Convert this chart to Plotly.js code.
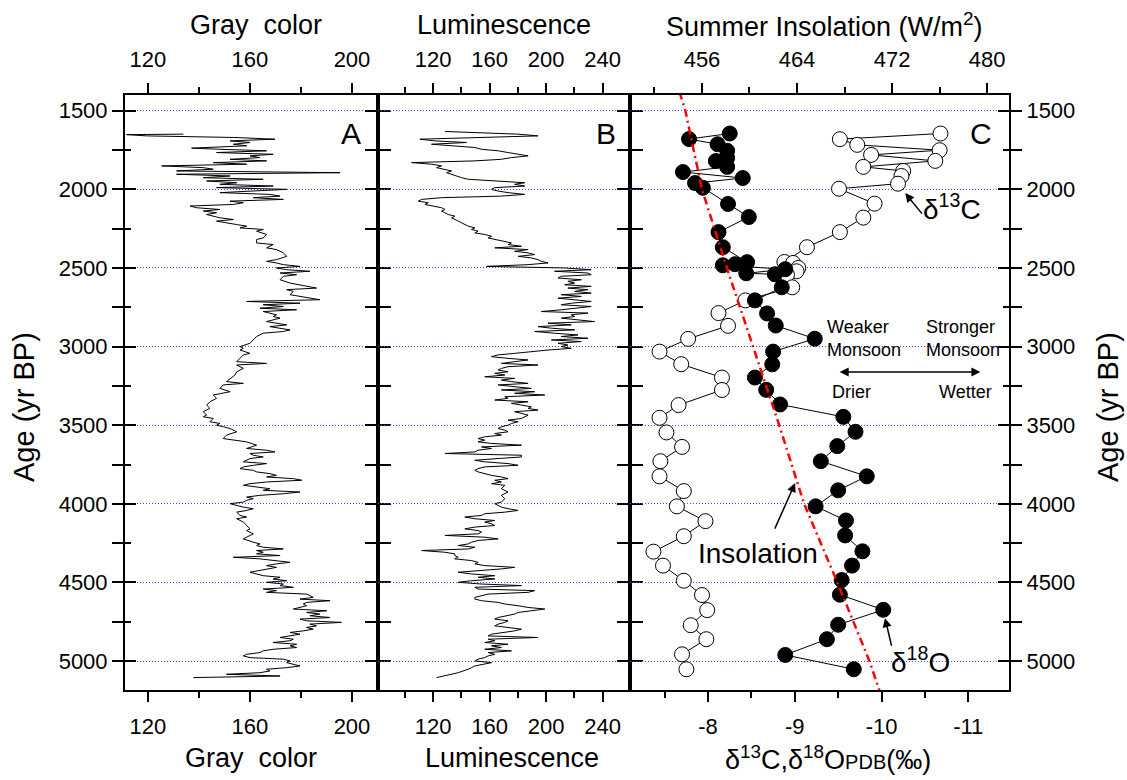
<!DOCTYPE html>
<html>
<head>
<meta charset="utf-8">
<script src="https://cdn.plot.ly/plotly-3.0.1.min.js"></script>
<style>html,body{margin:0;padding:0;background:#fff;}#chart{width:1127px;height:780px;}</style>
</head>
<body>
<div id="chart"></div>
<script>
// ---- Panel A: Gray color ----
const grayAge = [1649,1652,1660,1670,1681,1692,1702,1713,1723,1738,1745,1755,1766,1777,1787,1798,1809,1819,1830,1840,
1851,1862,1872,1883,1894,1904,1915,1926,1936,1947,1958,1968,1979,1989,2000,2011,2021,2032,2043,2053,
2064,2075,2085,2096,2106,2117,2128,2138,2149,2160,2181,2192,2202,2224,2234,2245,2255,2266,2287,2309,
2319,2341,2351,2372,2383,2404,2426,2447,2458,2468,2479,2490,2500,2511,2521,2532,2543,2553,2575,2596,
2607,2628,2638,2649,2670,2692,2702,2713,2724,2734,2745,2756,2766,2777,2798,2809,2819,2841,2862,2873,
2883,2894,2904,2915,2936,2958,2979,3000,3011,3022,3043,3053,3075,3096,3107,3117,3139,3160,3181,3202,
3223,3234,3244,3266,3287,3308,3329,3351,3372,3393,3414,3436,3446,3457,3478,3489,3500,3510,3521,3542,
3563,3585,3595,3606,3627,3648,3659,3670,3680,3691,3702,3712,3733,3744,3755,3765,3776,3787,3797,3808,
3819,3829,3840,3850,3861,3872,3882,3893,3904,3914,3925,3936,3946,3957,3967,3978,3989,3999,4010,4021,
4031,4042,4053,4074,4084,4095,4116,4138,4159,4170,4191,4212,4223,4244,4255,4265,4276,4287,4297,4308,
4318,4329,4340,4350,4372,4382,4393,4404,4425,4435,4457,4467,4478,4489,4499,4510,4520,4531,4542,4552,
4563,4574,4584,4595,4606,4616,4627,4637,4648,4669,4680,4691,4701,4712,4723,4733,4744,4754,4765,4776,
4786,4797,4808,4818,4829,4840,4850,4861,4871,4882,4893,4903,4914,4925,4935,4946,4957,4967,4978,4988,
4999,5010,5020,5031,5042,5052,5063,5074,5084,5095,5105];
const grayVal = [133.9,111.6,119.5,153.5,169.8,152.2,160.0,153.5,158.7,137.1,148.2,166.5,146.9,169.1,160.0,163.9,152.2,166.5,145.6,158.7,
125.4,141.7,145.6,131.2,195.3,131.2,152.2,141.7,165.2,143.0,154.8,148.2,169.1,146.9,174.4,158.7,148.2,167.8,171.8,161.3,
173.1,152.2,157.4,153.5,136.5,139.1,148.2,141.7,146.9,143.0,148.2,153.5,146.9,154.8,158.7,156.1,165.2,162.6,166.5,165.2,
162.6,162.6,169.1,166.5,170.4,173.1,174.4,170.4,166.5,170.4,173.1,179.6,170.4,174.4,183.5,171.8,178.3,173.1,171.8,175.7,
179.6,186.1,174.4,177.0,175.7,183.5,187.4,158.7,179.6,165.2,173.1,163.9,178.3,165.2,170.4,169.1,171.8,166.5,174.4,167.8,
171.8,175.7,173.1,165.2,162.6,161.3,160.0,156.1,157.4,156.1,160.0,157.4,156.1,154.8,166.5,154.8,157.4,154.8,154.1,152.2,
150.8,157.4,149.5,148.2,152.2,145.6,146.9,144.3,143.0,144.3,141.7,143.0,141.7,145.6,144.3,148.2,146.9,149.5,152.2,154.8,
150.8,149.5,154.8,158.7,162.6,158.7,166.5,169.8,160.0,161.3,165.2,160.0,157.4,166.5,161.3,157.4,156.1,161.3,162.6,167.8,
170.4,166.5,177.0,180.3,166.5,160.0,157.4,162.6,167.8,165.2,179.6,173.1,163.9,158.7,161.3,158.7,157.4,152.2,154.8,157.4,
161.3,158.7,154.8,156.1,158.7,154.8,157.4,158.7,160.0,158.7,161.3,158.7,157.4,161.3,163.9,162.6,165.2,173.1,162.6,165.2,
162.6,171.8,153.5,163.9,175.7,170.4,166.5,170.4,163.9,160.0,165.2,171.8,169.1,174.4,166.5,173.1,171.8,177.0,165.2,170.4,
166.5,182.2,183.5,184.8,179.6,191.4,182.2,180.9,182.2,177.0,190.1,182.2,187.4,183.5,191.4,179.6,182.2,195.9,183.5,186.1,
182.2,184.8,180.9,175.7,179.6,174.4,171.8,177.0,175.7,169.1,178.3,175.7,178.3,169.1,165.2,163.9,158.7,157.4,160.0,173.1,
175.7,174.4,177.0,179.6,174.4,166.5,167.8,163.9,150.8,171.8,137.8];

// ---- Panel B: Luminescence ----
const lumAge = [1632,1649,1660,1670,1681,1692,1702,1713,1723,1734,1745,1755,1766,1777,1787,1798,1809,1819,1830,1840,
1851,1862,1872,1883,1894,1904,1915,1926,1936,1947,1958,1968,1979,1989,2000,2011,2021,2032,2043,2053,
2064,2075,2085,2096,2106,2117,2128,2138,2149,2160,2170,2181,2202,2224,2234,2245,2255,2266,2277,2287,
2298,2309,2319,2330,2341,2351,2362,2372,2383,2394,2404,2415,2426,2436,2447,2458,2468,2479,2490,2500,
2511,2521,2532,2543,2553,2564,2575,2585,2596,2607,2617,2628,2638,2649,2660,2670,2681,2692,2702,2713,
2724,2734,2745,2756,2766,2777,2787,2798,2809,2819,2830,2841,2851,2862,2873,2883,2894,2904,2915,2926,
2936,2947,2958,2968,2979,2990,3000,3011,3022,3032,3043,3053,3064,3075,3085,3096,3107,3117,3128,3139,
3149,3160,3170,3181,3192,3202,3213,
3223,3234,3244,3255,3266,3276,3287,3297,3308,3319,3329,3340,3351,3361,3372,3383,3393,3404,3414,3425,
3436,3457,3468,3478,3489,3500,3510,3521,3531,3542,3553,3563,3574,3585,3595,3606,3616,3627,3638,3648,
3659,3670,3680,3691,3702,3712,3723,3733,3744,3755,3765,3776,3787,3797,3808,3819,3829,3840,3850,3861,
3872,3882,3904,3925,3946,3967,3989,3999,4010,4021,4031,4042,4053,4063,4074,4084,4095,4106,4116,4127,
4138,4148,4159,4170,4180,4191,4201,4212,4223,4233,4244,4255,4265,4276,4287,4297,4308,4318,4329,4340,
4350,4361,4372,4382,4393,4404,4414,4425,4435,4446,4457,4467,4478,4489,4499,4510,4520,4531,4542,4552,
4563,4574,4584,4595,4606,4616,4627,4637,4648,4659,4669,4680,4691,4701,4712,4723,4733,4744,4754,4765,
4776,4786,4797,4808,4818,4829,4840,4850,4861,4871,4882,4893,4903,4914,4925,4935,4946,4957,4967,4978,
4988,4999,5010,5020,5031,5042,5052,5074,5095,5105];
const lumVal = [128.3,180.1,194.2,149.5,110.6,121.2,143.6,118.8,135.3,149.5,154.2,166.0,173.0,182.5,187.2,175.4,168.3,149.5,104.7,118.8,
125.9,122.4,128.3,133.0,129.5,133.0,135.3,140.1,144.8,163.6,184.8,177.7,184.8,163.6,161.3,166.0,173.0,184.8,168.3,125.9,
111.8,109.4,116.5,114.1,121.2,125.9,128.3,125.9,128.3,130.6,135.3,133.0,137.7,142.4,144.8,149.5,147.1,151.8,149.5,156.5,
161.3,158.9,163.6,170.7,175.4,173.0,182.5,163.6,187.2,177.7,187.2,191.9,180.1,189.5,194.2,196.6,201.3,187.2,157.7,213.1,
231.9,206.0,229.6,231.9,210.7,208.4,224.9,215.4,220.2,213.1,231.9,215.4,229.6,220.2,231.9,210.7,224.9,208.4,222.5,231.9,
217.8,210.7,231.9,222.5,210.7,196.6,229.6,217.8,220.2,210.7,222.5,234.3,201.3,217.8,194.2,203.7,220.2,191.9,206.0,222.5,
210.7,229.6,203.7,224.9,208.4,215.4,210.7,217.8,201.3,187.2,177.7,166.0,161.3,173.0,187.2,177.7,168.3,194.2,173.0,168.3,
166.0,173.0,163.6,170.7,156.5,177.7,168.3,
175.4,187.2,166.0,177.7,189.5,168.3,191.9,177.7,199.0,170.7,173.0,163.6,187.2,175.4,182.5,189.5,187.2,194.2,177.7,182.5,
187.2,182.5,173.0,180.1,175.4,173.0,168.3,166.0,170.7,173.0,163.6,168.3,156.5,151.8,156.5,151.8,161.3,182.5,154.2,161.3,
151.8,149.5,128.3,182.5,182.5,166.0,149.5,156.5,173.0,180.1,156.5,151.8,149.5,151.8,156.5,161.3,168.3,173.0,163.6,168.3,
161.3,170.7,168.3,173.0,168.3,170.7,168.3,163.6,166.0,168.3,173.0,180.1,170.7,156.5,154.2,142.4,149.5,163.6,156.5,161.3,
163.6,149.5,142.4,151.8,154.2,151.8,128.3,156.5,166.0,151.8,147.1,144.8,137.7,149.5,144.8,111.8,128.3,135.3,135.3,137.7,
135.3,147.1,151.8,149.5,156.5,177.7,168.3,154.2,137.7,147.1,163.6,151.8,163.6,147.1,137.7,154.2,182.5,149.5,151.8,191.9,
187.2,158.9,154.2,149.5,149.5,154.2,166.0,170.7,180.1,187.2,199.0,189.5,180.1,177.7,170.7,166.0,163.6,173.0,170.7,166.0,
163.6,173.0,182.5,177.7,168.3,161.3,158.9,194.2,158.9,163.6,156.5,173.0,161.3,168.3,156.5,175.4,158.9,163.6,158.9,156.5,
151.8,149.5,161.3,154.2,149.5,147.1,144.8,137.7,128.3,122.4];

// ---- Panel C: stable isotopes ----
const d18OAge = [1645,1680,1713,1755,1800,1820,1857,1890,1928,1960,1990,2093,2176,2272,2368,2463,2476,2483,2508,2534,
2540,2623,2706,2789,2866,2950,3032,3113,3197,3275,3368,3447,3542,3633,3729,3825,3914,4016,4106,4201,
4302,4393,4485,4578,4674,4769,4861,4961,5052];
const d18OVal = [-8.25,-7.78,-8.11,-8.22,-8.22,-8.09,-8.22,-7.71,-8.40,-7.85,-7.94,-8.23,-8.47,-8.12,-8.17,-8.45,-8.31,-8.17,-8.89,-8.44,
-8.77,-8.85,-8.54,-8.68,-8.78,-9.23,-8.75,-8.74,-8.54,-8.67,-8.83,-9.56,-9.70,-9.49,-9.30,-9.83,-9.50,-9.24,-9.59,-9.58,
-9.78,-9.66,-9.54,-9.52,-10.02,-9.50,-9.37,-8.89,-9.68];
const d13CAge = [1645,1681,1717,1751,1781,1819,1857,1883,1915,1964,1996,2091,2180,2272,2368,2462,2468,2500,2521,2542,
2623,2706,2787,2868,2951,3032,3112,3197,3276,3372,3453,3546,3638,3729,3825,3919,4016,4110,4206,4304,
4393,4489,4580,4676,4772,4861,4957,5052];
const d13CVal = [-10.68,-9.52,-9.72,-10.67,-9.88,-10.62,-9.79,-10.25,-10.23,-10.19,-9.51,-9.92,-9.79,-9.52,-9.14,-8.88,-8.98,-9.04,-9.02,-8.91,
-8.97,-8.43,-8.12,-8.23,-7.77,-7.44,-7.69,-8.16,-8.16,-7.66,-7.44,-7.52,-7.70,-7.45,-7.44,-7.72,-7.64,-7.97,-7.72,-7.37,
-7.48,-7.72,-7.93,-7.99,-7.80,-7.98,-7.70,-7.75];

// ---- Summer insolation (top axis of panel C) ----
const insAge = [1380,1500,2000,2500,3000,3500,4000,4500,5000,5200];
const insVal = [454.1,454.6,456.0,458.1,460.3,462.5,464.6,467.4,470.1,471.0];

// ---- tick labels ----
const isoTickVals = [-8,-9,-10,-11];
const isoTickText = ['-8','-9','-10','-11'];
const isoMinorVals = [-7.5,-8.5,-9.5,-10.5,-11.5];

const FONT = 'Liberation Sans, Arial, Helvetica, sans-serif';
const yRange = [5184, 1400];
const dA = [0, 0.2862], dB = [0.2862, 0.5713], dC = [0.5713, 1];
const TF = 22;

function yAx(extra) {
  return Object.assign({
    range: yRange, autorange: false, tick0: 0, dtick: 500,
    ticks: 'outside', ticklen: 11, tickwidth: 2, tickcolor: '#000',
    minor: {ticks: 'outside', ticklen: 6, tickwidth: 2, tick0: 0, dtick: 250, tickcolor: '#000'},
    showline: true, linewidth: 2, linecolor: '#000', mirror: 'allticks',
    showgrid: true, gridcolor: '#4f4fff', griddash: '1px,2px', gridwidth: 1,
    zeroline: false, showticklabels: false, tickfont: {size: TF, color: '#000'}
  }, extra);
}
function yIn(extra) {
  return Object.assign({
    range: yRange, autorange: false, tick0: 0, dtick: 500,
    ticks: 'inside', ticklen: 11, tickwidth: 2, tickcolor: '#000',
    minor: {ticks: 'inside', ticklen: 6, tickwidth: 2, tick0: 0, dtick: 250, tickcolor: '#000'},
    showline: false, showgrid: false, zeroline: false, showticklabels: false
  }, extra);
}
function xAx(extra) {
  return Object.assign({
    ticks: 'outside', ticklen: 10, tickwidth: 2, tickcolor: '#000',
    showline: true, linewidth: 2, linecolor: '#000', mirror: true,
    showgrid: false, zeroline: false, autorange: false,
    tickfont: {size: TF, color: '#000'}
  }, extra);
}
const minorX = (d) => ({ticks: 'outside', ticklen: 6, tickwidth: 2, dtick: d, tick0: 0, tickcolor: '#000'});

const blk = {color: '#000', width: 1};
const traces = [
  {x: grayVal, y: grayAge, xaxis: 'x', yaxis: 'y', mode: 'lines', line: blk},
  {x: lumVal, y: lumAge, xaxis: 'x2', yaxis: 'y2', mode: 'lines', line: blk},
  {x: d13CVal, y: d13CAge, xaxis: 'x3', yaxis: 'y3', mode: 'lines+markers', line: blk,
   marker: {size: 15, color: '#fff', line: {color: '#000', width: 1}}},
  {x: d18OVal, y: d18OAge, xaxis: 'x3', yaxis: 'y3', mode: 'lines+markers', line: blk,
   marker: {size: 15, color: '#000', line: {color: '#000', width: 1}}},
  {x: insVal, y: insAge, xaxis: 'x6', yaxis: 'y3', mode: 'lines',
   line: {color: '#ff0000', width: 2.5, dash: '8px,4px,2px,4px'}},
  {x: [], y: [], xaxis: 'x4', yaxis: 'y', mode: 'lines'},
  {x: [], y: [], xaxis: 'x5', yaxis: 'y2', mode: 'lines'},
  {x: [], y: [], xaxis: 'x', yaxis: 'y4', mode: 'lines'},
  {x: [], y: [], xaxis: 'x3', yaxis: 'y5', mode: 'lines'}
];
traces.forEach(t => { t.showlegend = false; t.hoverinfo = 'skip'; });

const T = 27;
const px = (p) => (p - 125) / 884;
const py = (p) => (690 - p) / 595;
function ttl(text, x, y, extra) {
  return Object.assign({text: text, xref: 'paper', yref: 'paper', x: px(x), y: py(y),
    xanchor: 'center', yanchor: 'middle', showarrow: false, font: {size: T}}, extra || {});
}

const layout = {
  width: 1127, height: 780,
  margin: {l: 125, r: 118, t: 95, b: 90},
  paper_bgcolor: '#fff', plot_bgcolor: '#fff',
  font: {family: FONT, color: '#000', size: TF},
  showlegend: false,
  xaxis: xAx({domain: dA, anchor: 'y', range: [111, 210.2], tick0: 0, dtick: 40, minor: minorX(20), ticklabelstandoff: 6}),
  xaxis2: xAx({domain: dB, anchor: 'y2', range: [80.9, 259.4], tick0: 0, dtick: 40, minor: minorX(20), ticklabelstandoff: 6}),
  xaxis3: xAx({domain: dC, anchor: 'y3', range: [-7.10, -11.47], tickmode: 'array',
    tickvals: isoTickVals, ticktext: isoTickText, ticklabelstandoff: 6,
    minor: {ticks: 'outside', ticklen: 6, tickwidth: 2, tickmode: 'array', tickvals: isoMinorVals, tickcolor: '#000'}}),
  xaxis4: xAx({overlaying: 'x', side: 'top', anchor: 'y', range: [111, 210.2], tick0: 0, dtick: 40, mirror: false, minor: minorX(20), ticklabelstandoff: 7}),
  xaxis5: xAx({overlaying: 'x2', side: 'top', anchor: 'y2', range: [80.9, 259.4], tick0: 0, dtick: 40, mirror: false, minor: minorX(20), ticklabelstandoff: 7}),
  xaxis6: xAx({overlaying: 'x3', side: 'top', anchor: 'y3', range: [449.94, 481.85], tick0: 0, dtick: 8, mirror: false, minor: minorX(4), ticklabelstandoff: 7}),
  yaxis: yAx({domain: [0, 1], anchor: 'x', showticklabels: true}),
  yaxis2: yAx({domain: [0, 1], anchor: 'x2'}),
  yaxis3: yAx({domain: [0, 1], anchor: 'x3', side: 'right', showticklabels: true}),
  yaxis4: yIn({overlaying: 'y', anchor: 'x', side: 'left'}),
  yaxis5: yIn({overlaying: 'y3', anchor: 'x3', side: 'right'}),
  annotations: [
    ttl('Gray\u00A0 color', 256, 25),
    ttl('Luminescence', 504, 25),
    ttl('Summer Insolation (W/m<sup>2</sup>)', 824, 25),
    ttl('Gray\u00A0 color', 251, 758),
    ttl('Luminescence', 512, 758),
    ttl('\u03B4<sup>13</sup>C,\u03B4<sup>18</sup>O<span style="font-size:20px">PDB</span>(\u2030)', 828, 758),
    ttl('Age (yr BP)', 24, 407, {textangle: -90, font: {size: 29}}),
    ttl('Age (yr BP)', 1108, 407, {textangle: -90, font: {size: 29}}),
    {text: 'A', xref: 'x', yref: 'y', x: 199.6, y: 1642, showarrow: false, font: {size: 30}},
    {text: 'B', xref: 'x2', yref: 'y2', x: 242.3, y: 1642, showarrow: false, font: {size: 30}},
    {text: 'C', xref: 'x3', yref: 'y3', x: -11.15, y: 1642, showarrow: false, font: {size: 30}},
    {text: 'Weaker<br>Monsoon', xref: 'x3', yref: 'y3', x: -9.35, y: 2946, xanchor: 'left', align: 'left', showarrow: false, font: {size: 18}},
    {text: 'Stronger<br>Monsoon', xref: 'x3', yref: 'y3', x: -10.49, y: 2946, xanchor: 'left', align: 'left', showarrow: false, font: {size: 18}},
    {text: '', xref: 'x3', yref: 'y3', x: -11.14, y: 3162, axref: 'x3', ayref: 'y3', ax: -9.50, ay: 3162,
     showarrow: true, arrowhead: 2, startarrowhead: 2, arrowside: 'end+start', arrowsize: 1.2, arrowwidth: 1.5, arrowcolor: '#000', standoff: 0, startstandoff: 0},
    {text: 'Drier', xref: 'x3', yref: 'y3', x: -9.65, y: 3290, showarrow: false, font: {size: 18}},
    {text: 'Wetter', xref: 'x3', yref: 'y3', x: -10.97, y: 3290, showarrow: false, font: {size: 18}},
    {text: 'Insolation', xref: 'x3', yref: 'y3', x: -8.577, y: 4313, showarrow: false, font: {size: 28}},
    {text: '', xref: 'x3', yref: 'y3', x: -9.004, y: 3868, axref: 'x3', ayref: 'y3', ax: -8.762, ay: 4167,
     showarrow: true, arrowhead: 2, arrowsize: 1.2, arrowwidth: 1.5, arrowcolor: '#000', standoff: 0},
    {text: '\u03B4<sup>13</sup>C', xref: 'x3', yref: 'y3', x: -10.815, y: 2112, showarrow: false, font: {size: 28}},
    {text: '', xref: 'x3', yref: 'y3', x: -10.273, y: 2024, axref: 'x3', ayref: 'y3', ax: -10.48, ay: 2164,
     showarrow: true, arrowhead: 2, arrowsize: 1.2, arrowwidth: 1.5, arrowcolor: '#000', standoff: 0},
    {text: '\u03B4<sup>18</sup>O', xref: 'x3', yref: 'y3', x: -10.446, y: 4994, showarrow: false, font: {size: 28}},
    {text: '', xref: 'x3', yref: 'y3', x: -10.04, y: 4727, axref: 'x3', ayref: 'y3', ax: -10.12, ay: 4912,
     showarrow: true, arrowhead: 2, arrowsize: 1.2, arrowwidth: 1.5, arrowcolor: '#000', standoff: 0}
  ]
};

Plotly.newPlot('chart', traces, layout, {displayModeBar: false, staticPlot: true});
</script>
</body>
</html>
